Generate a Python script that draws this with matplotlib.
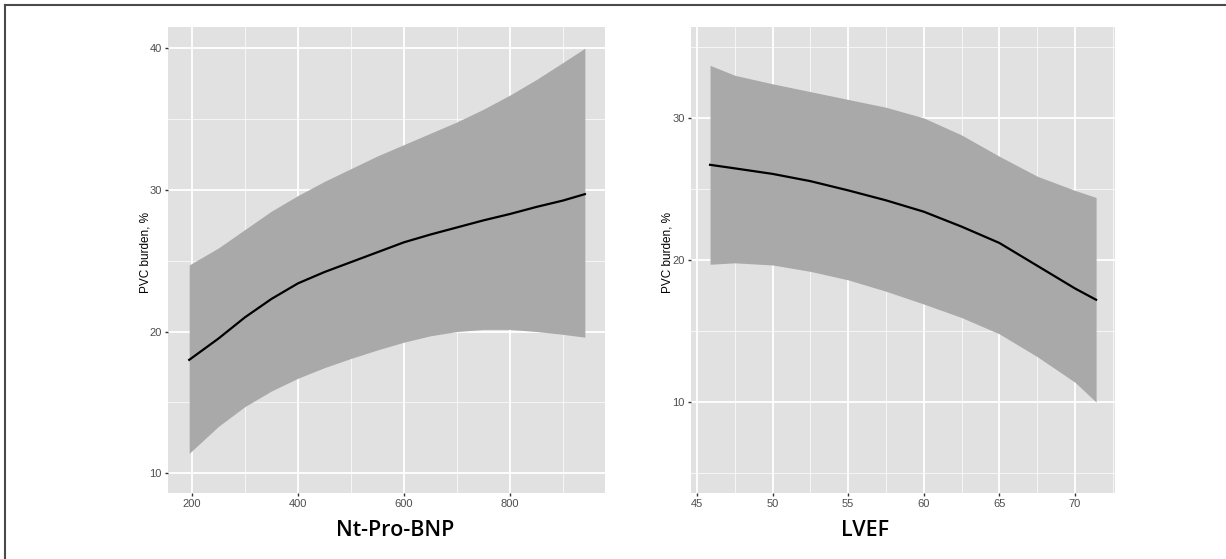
import matplotlib
matplotlib.use("Agg")
import matplotlib.pyplot as plt
from matplotlib.ticker import MultipleLocator
from matplotlib.lines import Line2D

# left panel: PVC burden vs Nt-Pro-BNP
bnp_x = [195, 250, 300, 350, 400, 450, 500, 550, 600, 650, 700, 750, 800, 850, 900, 941]
bnp_fit = [18.0, 19.5, 21.0, 22.3, 23.4, 24.2, 24.9, 25.6, 26.3, 26.85, 27.35, 27.85, 28.3, 28.8, 29.25, 29.7]
bnp_hi = [24.7, 25.9, 27.2, 28.5, 29.6, 30.6, 31.5, 32.4, 33.2, 34.0, 34.8, 35.7, 36.7, 37.8, 39.0, 40.0]
bnp_lo = [11.4, 13.3, 14.7, 15.8, 16.7, 17.45, 18.1, 18.7, 19.25, 19.7, 20.0, 20.15, 20.15, 20.0, 19.8, 19.6]

# right panel: PVC burden vs LVEF
lvef_x = [45.86, 47.5, 50, 52.5, 55, 57.5, 60, 62.5, 65, 67.5, 70, 71.4]
lvef_fit = [26.7, 26.45, 26.06, 25.55, 24.9, 24.2, 23.4, 22.35, 21.2, 19.6, 18.0, 17.2]
lvef_hi = [33.7, 33.0, 32.4, 31.85, 31.3, 30.75, 30.0, 28.8, 27.3, 25.9, 24.9, 24.4]
lvef_lo = [19.7, 19.8, 19.65, 19.2, 18.6, 17.8, 16.9, 15.95, 14.8, 13.2, 11.4, 10.0]

bg = '#e1e1e1'
band = '#a9a9a9'

plt.rcParams['font.family'] = ['Liberation Sans', 'DejaVu Sans']

fig = plt.figure(figsize=(12.26, 5.59), dpi=100)

ax1 = fig.add_axes([168 / 1226, 66 / 559, 437 / 1226, 466 / 559])
ax2 = fig.add_axes([691 / 1226, 66 / 559, 424 / 1226, 466 / 559])


def style(ax, xmaj, xmin, ymaj, ymin):
    ax.set_facecolor(bg)
    for s in ax.spines.values():
        s.set_visible(False)
    ax.xaxis.set_major_locator(MultipleLocator(xmaj))
    ax.xaxis.set_minor_locator(MultipleLocator(xmin))
    ax.yaxis.set_major_locator(MultipleLocator(ymaj))
    ax.yaxis.set_minor_locator(MultipleLocator(ymin))
    ax.grid(which='major', color='white', linewidth=1.3)
    ax.grid(which='minor', color='white', linewidth=0.6, alpha=0.8)
    ax.set_axisbelow(True)
    ax.tick_params(which='major', length=2.5, width=1, color='#333333',
                   labelsize=8, labelcolor='#4d4d4d', pad=2)
    ax.tick_params(which='minor', length=0)


ax1.fill_between(bnp_x, bnp_lo, bnp_hi, color=band, linewidth=0, zorder=2)
ax1.plot(bnp_x, bnp_fit, color='black', linewidth=1.6, zorder=3)
style(ax1, 200, 100, 10, 5)
ax1.set_xlim(155, 979)
ax1.set_ylim(8.6, 41.5)

ax2.fill_between(lvef_x, lvef_lo, lvef_hi, color=band, linewidth=0, zorder=2)
ax2.plot(lvef_x, lvef_fit, color='black', linewidth=1.6, zorder=3)
style(ax2, 5, 2.5, 10, 5)
ax2.set_xlim(44.6, 72.65)
ax2.set_ylim(3.6, 36.4)

# axis titles placed in figure pixels
fig.text(145 / 1226, 1 - 252 / 559, 'PVC burden, %', rotation=90, ha='center', va='center',
         fontsize=8.5, color='black')
fig.text(668 / 1226, 1 - 252 / 559, 'PVC burden, %', rotation=90, ha='center', va='center',
         fontsize=8.5, color='black')
fig.text(395 / 1226, 1 - 530 / 559, 'Nt-Pro-BNP', ha='center', va='center',
         fontsize=15.5, family='Open Sans', fontweight='semibold', color='black')
fig.text(865 / 1226, 1 - 530 / 559, 'LVEF', ha='center', va='center',
         fontsize=15.5, family='Open Sans', fontweight='semibold', color='black')

# frame on top and left edge of the image
fig.add_artist(Line2D([5 / 1226, 1], [1 - 5 / 559, 1 - 5 / 559], color='#4a4a4a', linewidth=1.5))
fig.add_artist(Line2D([5 / 1226, 5 / 1226], [0, 1 - 5 / 559], color='#4a4a4a', linewidth=1.5))

fig.savefig('out.png', dpi=100)
